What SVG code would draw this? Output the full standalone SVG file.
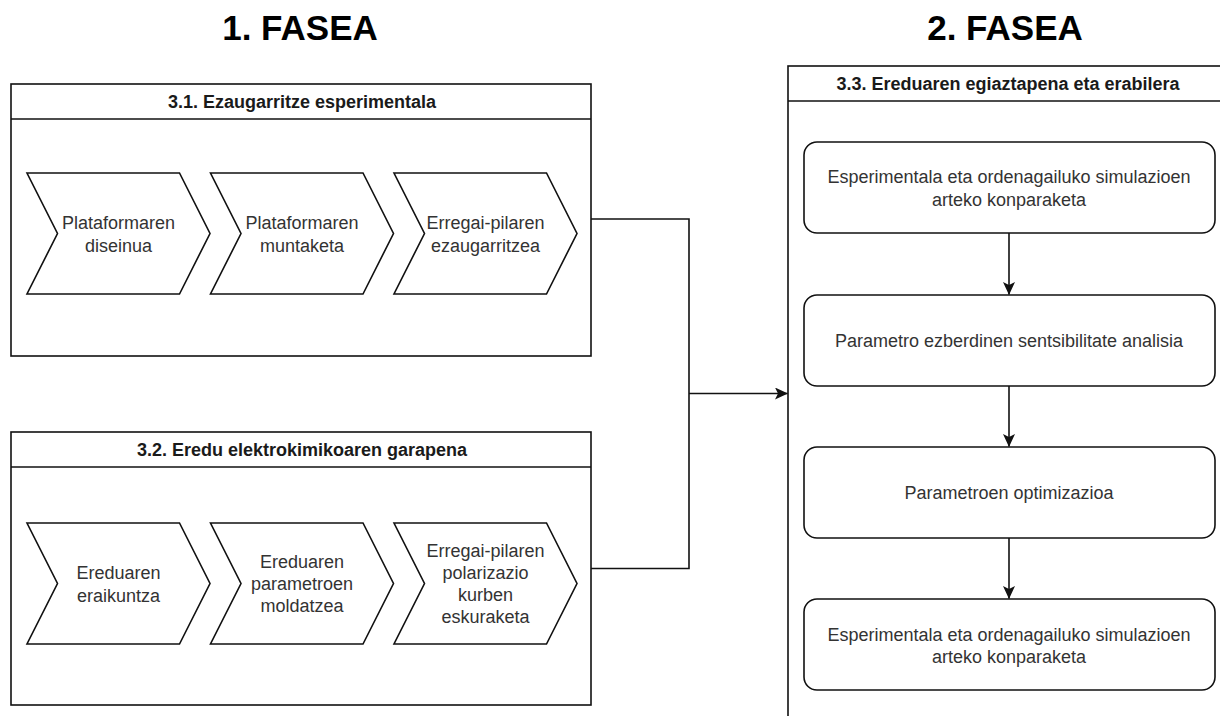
<svg xmlns="http://www.w3.org/2000/svg" width="1220" height="716" viewBox="0 0 1220 716">
<defs>
<style>
.t{font-family:"Liberation Sans",Arial,sans-serif;font-size:18px;fill:#333;text-anchor:middle}
.h{font-family:"Liberation Sans",Arial,sans-serif;font-size:18px;font-weight:bold;fill:#1a1a1a;text-anchor:middle}
.ph{font-family:"Liberation Sans",Arial,sans-serif;font-size:35px;font-weight:bold;fill:#000;text-anchor:middle}
.box{fill:#fff;stroke:#111;stroke-width:1.6}
.ln{fill:none;stroke:#111;stroke-width:1.6}
</style>
<marker id="ah" viewBox="0 0 13 12" refX="12.5" refY="6" markerWidth="13" markerHeight="12" markerUnits="userSpaceOnUse" orient="auto">
<path d="M0,0 L13,6 L0,12 L3,6 Z" fill="#111"/>
</marker>
</defs>
<rect width="1220" height="716" fill="#fff"/>
<text class="ph" x="300" y="40">1. FASEA</text>
<text class="ph" x="1005" y="40">2. FASEA</text>

<g id="group31">
<rect class="box" x="11" y="84" width="580" height="272"/>
<line class="ln" x1="11" y1="119" x2="591" y2="119"/>
<text class="h" x="302" y="108">3.1. Ezaugarritze esperimentala</text>
</g>
<g id="c11"><polygon class="box" points="27,173 179.5,173 210,233.5 179.5,294 27,294 57.5,233.5"/>
<text class="t" x="118.5" y="229">Plataformaren</text><text class="t" x="118.5" y="251.5">diseinua</text></g>
<g id="c12"><polygon class="box" points="210.5,173 363,173 393.5,233.5 363,294 210.5,294 241,233.5"/>
<text class="t" x="302" y="229">Plataformaren</text><text class="t" x="302" y="251.5">muntaketa</text></g>
<g id="c13"><polygon class="box" points="394,173 546.5,173 577,233.5 546.5,294 394,294 424.5,233.5"/>
<text class="t" x="485.5" y="229">Erregai-pilaren</text><text class="t" x="485.5" y="251.5">ezaugarritzea</text></g>

<g id="group32">
<rect class="box" x="11" y="432" width="580" height="273"/>
<line class="ln" x1="11" y1="467" x2="591" y2="467"/>
<text class="h" x="302" y="456">3.2. Eredu elektrokimikoaren garapena</text>
</g>
<g id="c21"><polygon class="box" points="27,523 179.5,523 210,583.5 179.5,644 27,644 57.5,583.5"/>
<text class="t" x="118.5" y="579">Ereduaren</text><text class="t" x="118.5" y="601.5">eraikuntza</text></g>
<g id="c22"><polygon class="box" points="210.5,523 363,523 393.5,583.5 363,644 210.5,644 241,583.5"/>
<text class="t" x="302" y="568">Ereduaren</text><text class="t" x="302" y="590">parametroen</text><text class="t" x="302" y="612">moldatzea</text></g>
<g id="c23"><polygon class="box" points="394,523 546.5,523 577,583.5 546.5,644 394,644 424.5,583.5"/>
<text class="t" x="485.5" y="557">Erregai-pilaren</text><text class="t" x="485.5" y="579">polarizazio</text><text class="t" x="485.5" y="601">kurben</text><text class="t" x="485.5" y="623">eskuraketa</text></g>

<g id="group33">
<rect class="box" x="788" y="66" width="442" height="700"/>
<line class="ln" x1="788" y1="101" x2="1230" y2="101"/>
<text class="h" x="1008" y="90">3.3. Ereduaren egiaztapena eta erabilera</text>
</g>
<g id="r1"><rect class="box" x="804" y="142" width="411" height="91" rx="13"/>
<text class="t" x="1009" y="183">Esperimentala eta ordenagailuko simulazioen</text><text class="t" x="1009" y="205.5">arteko konparaketa</text></g>
<g id="r2"><rect class="box" x="804" y="295" width="411" height="91" rx="13"/>
<text class="t" x="1009" y="347">Parametro ezberdinen sentsibilitate analisia</text></g>
<g id="r3"><rect class="box" x="804" y="447" width="411" height="91" rx="13"/>
<text class="t" x="1009" y="499">Parametroen optimizazioa</text></g>
<g id="r4"><rect class="box" x="804" y="599" width="411" height="91" rx="13"/>
<text class="t" x="1009" y="640.5">Esperimentala eta ordenagailuko simulazioen</text><text class="t" x="1009" y="663">arteko konparaketa</text></g>

<g id="connectors">
<polyline class="ln" points="591,219 689,219 689,568.5 591,568.5"/>
<line class="ln" x1="689" y1="393.5" x2="787.5" y2="393.5" marker-end="url(#ah)"/>
<line class="ln" x1="1009" y1="233" x2="1009" y2="294.5" marker-end="url(#ah)"/>
<line class="ln" x1="1009" y1="386" x2="1009" y2="446.5" marker-end="url(#ah)"/>
<line class="ln" x1="1009" y1="538" x2="1009" y2="598.5" marker-end="url(#ah)"/>
</g>
</svg>
